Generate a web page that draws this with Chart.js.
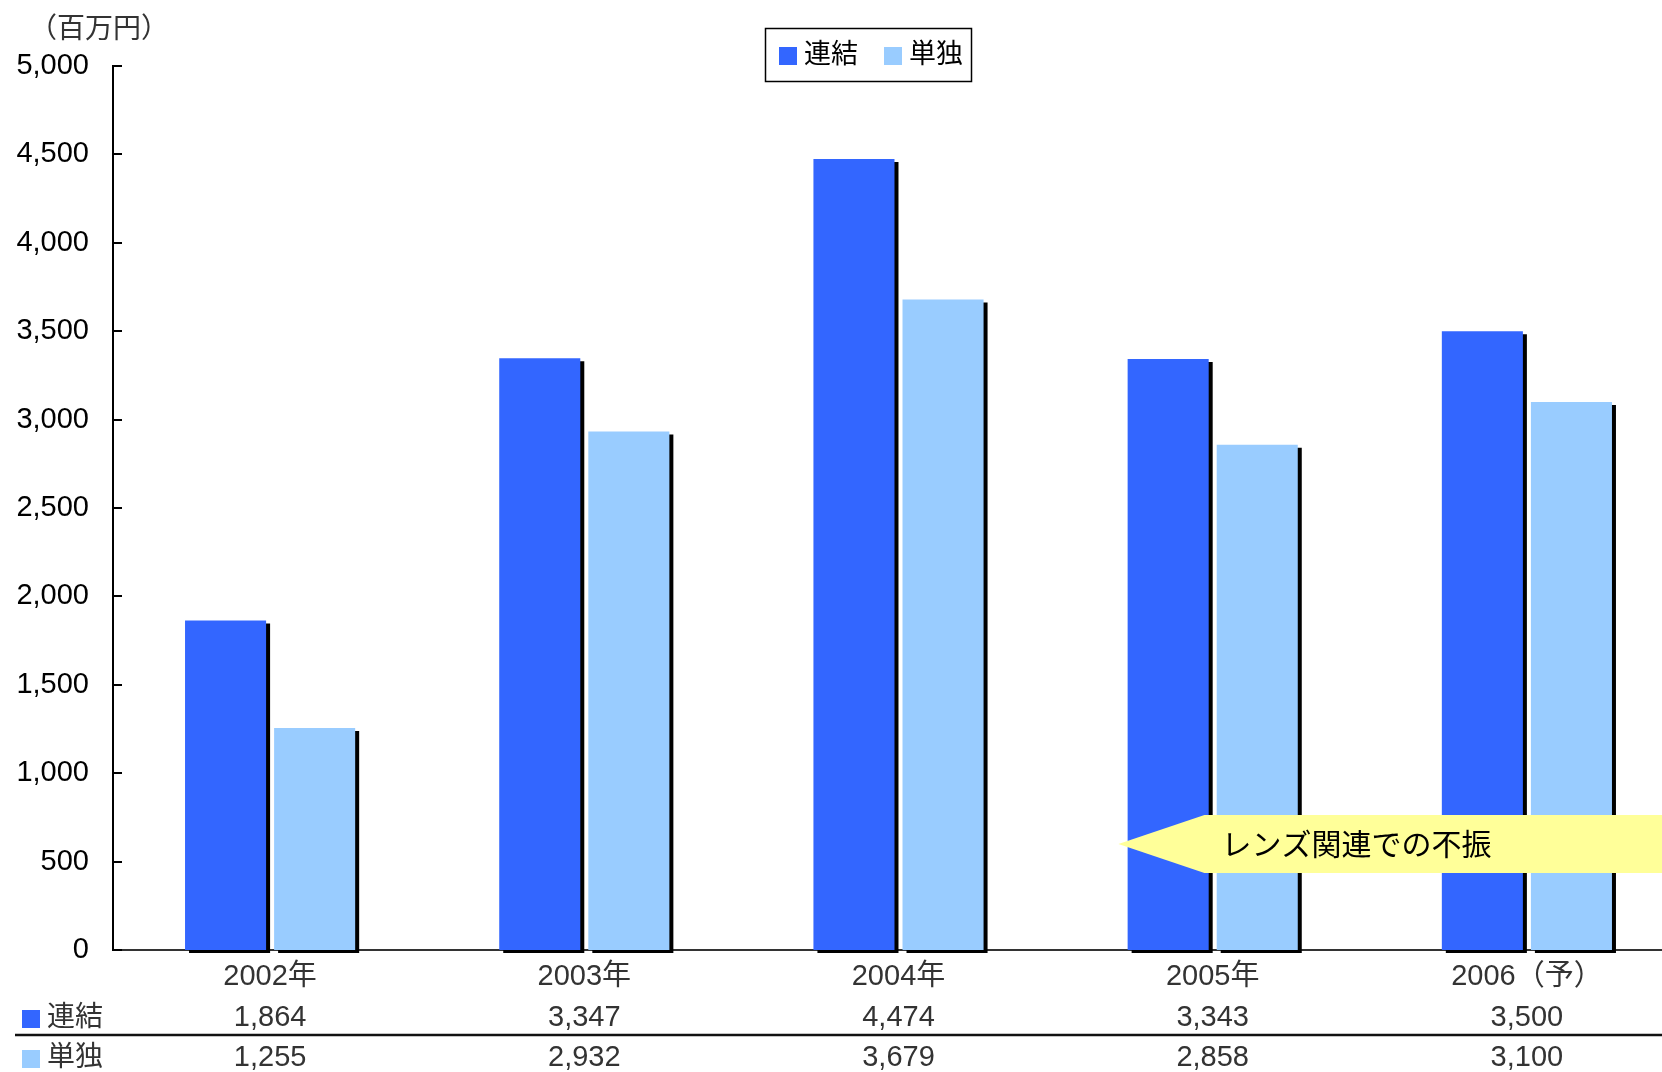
<!DOCTYPE html>
<html lang="ja">
<head>
<meta charset="utf-8">
<title>連結・単独</title>
<script src="https://cdn.jsdelivr.net/npm/chart.js@4.4.1/dist/chart.umd.min.js"></script>
<style>
  html, body { margin: 0; padding: 0; background: #fff; overflow: hidden; }
  #wrap { position: absolute; left: 0; top: 0; width: 1700px; height: 1072px; }
</style>
</head>
<body>
<div id="wrap"><canvas id="c"></canvas></div>
<script>
// 連結 / 単独 (百万円)
const YEARS = ["2002年", "2003年", "2004年", "2005年", "2006（予）"];
const RENKETSU = [1864, 3347, 4474, 3343, 3500];
const TANDOKU = [1255, 2932, 3679, 2858, 3100];
const Y_TICKS = [0, 500, 1000, 1500, 2000, 2500, 3000, 3500, 4000, 4500, 5000];
const SERIES = ["連結", "単独"];
const COLORS = ["#3366ff", "#99ccff"];
const UNIT = "（百万円）";
const NOTE = "レンズ関連での不振";
const NOTE_AT = { x: 2.7, y: 600 }; // arrow tip, in category index / value

const FONT = '"Liberation Sans", "Noto Sans CJK JP", sans-serif';
const fmt = (v) => v.toLocaleString("en-US");

// hard black drop shadow behind every bar
const barShadow = {
  id: "barShadow",
  beforeDatasetsDraw(chart) {
    const ctx = chart.ctx;
    ctx.save();
    ctx.shadowColor = "#000";
    ctx.shadowBlur = 0;
    ctx.shadowOffsetX = 4;
    ctx.shadowOffsetY = 3;
  },
  afterDatasetsDraw(chart) { chart.ctx.restore(); },
};

// unit label, boxed legend, inward y ticks, callout and the data table below the axis
const extras = {
  id: "extras",
  afterDraw(chart) {
    const { ctx, chartArea: a, scales: { x, y } } = chart;
    ctx.save();

    // inward tick marks on the value axis
    ctx.strokeStyle = "#000";
    ctx.lineWidth = 2;
    Y_TICKS.forEach((v) => {
      const py = Math.round(y.getPixelForValue(v));
      ctx.beginPath(); ctx.moveTo(a.left, py); ctx.lineTo(a.left + 9, py); ctx.stroke();
    });

    // unit
    ctx.fillStyle = "#333";
    ctx.font = `28px ${FONT}`;
    ctx.textBaseline = "middle";
    ctx.textAlign = "left";
    ctx.fillText(UNIT, 29, 30);

    // legend box
    ctx.fillStyle = "#fff";
    ctx.fillRect(765, 28, 207, 54);
    ctx.strokeStyle = "#000";
    ctx.lineWidth = 1.5;
    ctx.strokeRect(765.5, 28.5, 206, 53);
    ctx.font = `27px ${FONT}`;
    [[779, 804], [884, 909]].forEach(([sx, tx], i) => {
      ctx.fillStyle = COLORS[i];
      ctx.fillRect(sx, 47, 18, 18);
      ctx.fillStyle = "#000";
      ctx.fillText(SERIES[i], tx, 56);
    });

    // callout
    const tipX = x.getPixelForValue(NOTE_AT.x);
    const tipY = y.getPixelForValue(NOTE_AT.y);
    ctx.fillStyle = "#ffff99";
    ctx.beginPath();
    ctx.moveTo(tipX, tipY);
    ctx.lineTo(tipX + 86, tipY - 29);
    ctx.lineTo(chart.width, tipY - 29);
    ctx.lineTo(chart.width, tipY + 29);
    ctx.lineTo(tipX + 86, tipY + 29);
    ctx.closePath();
    ctx.fill();
    ctx.fillStyle = "#000";
    ctx.font = `30px ${FONT}`;
    ctx.fillText(NOTE, tipX + 103, tipY + 3);

    // data table
    const rows = [RENKETSU, TANDOKU];
    const rowY = [1018, 1058];
    rows.forEach((vals, r) => {
      ctx.fillStyle = COLORS[r];
      ctx.fillRect(22, rowY[r] - 8, 18, 18);
      ctx.fillStyle = "#333";
      ctx.font = `28px ${FONT}`;
      ctx.textAlign = "left";
      ctx.fillText(SERIES[r], 47, rowY[r]);
      ctx.font = `29px ${FONT}`;
      ctx.textAlign = "center";
      vals.forEach((v, i) => ctx.fillText(fmt(v), x.getPixelForValue(i), rowY[r]));
    });
    ctx.strokeStyle = "#111";
    ctx.lineWidth = 2.5;
    ctx.beginPath(); ctx.moveTo(15, 1035); ctx.lineTo(chart.width, 1035); ctx.stroke();

    ctx.restore();
  },
};

new Chart(document.getElementById("c"), {
  type: "bar",
  data: {
    labels: YEARS,
    datasets: [
      { label: SERIES[0], data: RENKETSU, backgroundColor: COLORS[0], clip: false },
      { label: SERIES[1], data: TANDOKU, backgroundColor: COLORS[1], clip: false },
    ],
  },
  options: {
    responsive: true,
    maintainAspectRatio: false,
    animation: false,
    events: [],
    categoryPercentage: 0.567,
    barPercentage: 0.91,
    layout: { padding: { top: 66, right: 16, left: 0, bottom: 0 } },
    plugins: { legend: { display: false }, tooltip: { enabled: false } },
    scales: {
      x: {
        grid: { display: false, drawTicks: false },
        border: { display: true, color: "#333", width: 2 },
        ticks: { padding: 10, color: "#333", maxRotation: 0, font: { family: FONT, size: 29 } },
        afterFit: (s) => { s.height = 122; },
      },
      y: {
        min: 0,
        max: 5000,
        afterBuildTicks: (s) => { s.ticks = Y_TICKS.map((v) => ({ value: v })); },
        grid: { display: false, drawTicks: false },
        border: { display: true, color: "#000", width: 2 },
        ticks: { padding: 24, color: "#000", font: { family: FONT, size: 29 }, callback: (v) => fmt(v) },
        afterFit: (s) => { s.width = 113; },
      },
    },
  },
  plugins: [barShadow, extras],
});
</script>
</body>
</html>
